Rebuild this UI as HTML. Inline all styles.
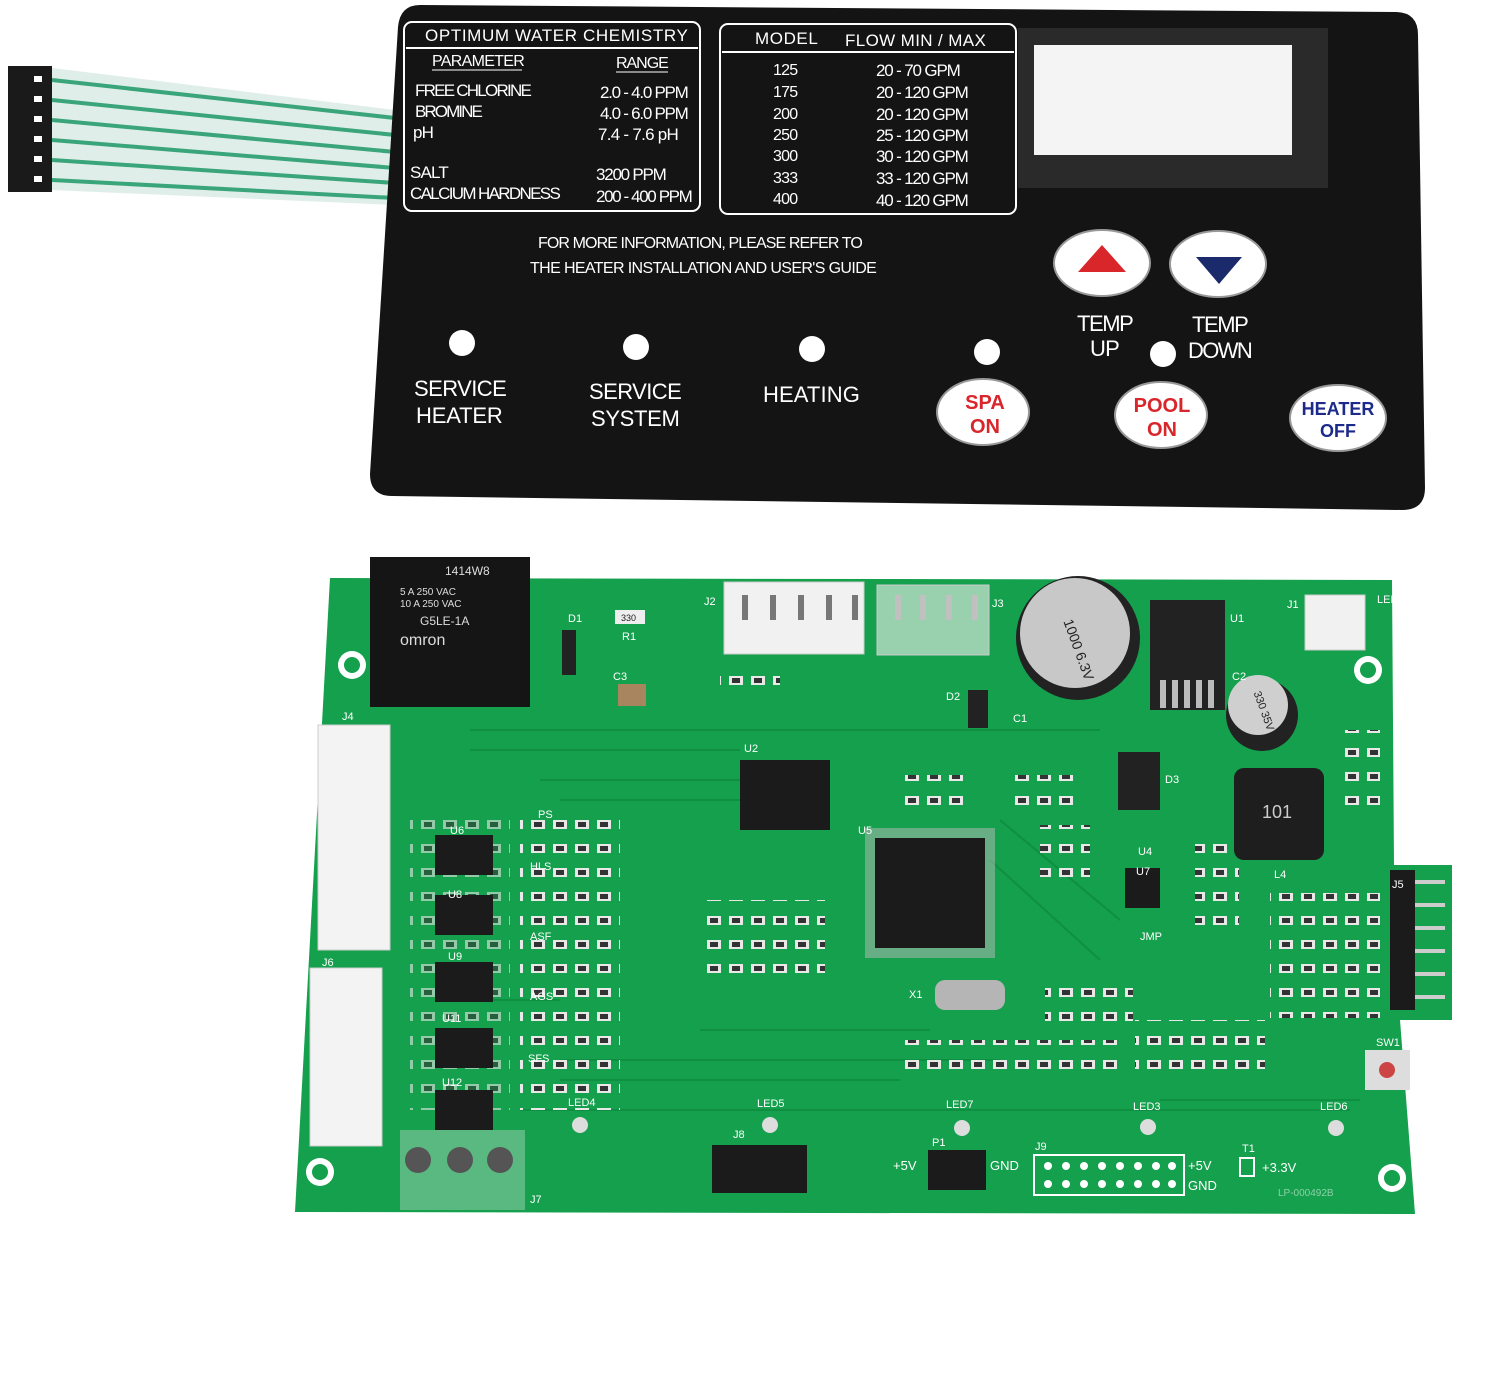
<!DOCTYPE html>
<html><head><meta charset="utf-8"><style>
html,body{margin:0;padding:0;background:#fff;}
svg{display:block}
text{font-family:"Liberation Sans",sans-serif;}
</style></head><body>
<svg width="1500" height="1376" viewBox="0 0 1500 1376" xmlns="http://www.w3.org/2000/svg">
<defs>
<pattern id="res" width="22" height="24" patternUnits="userSpaceOnUse">
<rect x="3" y="4" width="14" height="9" fill="#e8e8e8"/><rect x="6" y="6" width="8" height="5" fill="#333"/>
</pattern>
</defs>
<rect width="1500" height="1376" fill="#fff"/>
<!-- ribbon -->
<g>
<rect x="8" y="66" width="44" height="126" fill="#1a1a1a"/>
<g fill="#fff"><rect x="34" y="76" width="8" height="6"/><rect x="34" y="96" width="8" height="6"/><rect x="34" y="116" width="8" height="6"/><rect x="34" y="136" width="8" height="6"/><rect x="34" y="156" width="8" height="6"/><rect x="34" y="176" width="8" height="6"/></g>
<polygon points="52,68 395,110 395,205 52,190" fill="#dfeee9"/>
<g stroke="#3aa57a" stroke-width="4" fill="none">
<line x1="52" y1="80" x2="395" y2="118"/><line x1="52" y1="100" x2="395" y2="135"/><line x1="52" y1="120" x2="395" y2="152"/><line x1="52" y1="140" x2="395" y2="168"/><line x1="52" y1="160" x2="395" y2="183"/><line x1="52" y1="180" x2="395" y2="198"/>
</g>
</g>
<!-- membrane panel -->
<path d="M420,5 L1395,12 Q1418,12 1418,35 L1425,488 Q1425,510 1402,510 L392,496 Q370,496 370,474 L398,27 Q400,5 420,5 Z" fill="#141414"/>
<rect x="404" y="22" width="296" height="189" rx="8" fill="none" stroke="#fff" stroke-width="2"/>
<rect x="720" y="24" width="296" height="190" rx="8" fill="none" stroke="#fff" stroke-width="2"/>
<rect x="1018" y="28" width="310" height="160" fill="#2a2a2a"/>
<rect x="1034" y="45" width="258" height="110" fill="#f4f4f4"/>
<g fill="#fff" font-size="17" letter-spacing="-0.8">
<text x="425" y="41" textLength="262">OPTIMUM WATER CHEMISTRY</text>
<line x1="406" y1="48" x2="698" y2="48" stroke="#fff" stroke-width="2"/>
<text x="432" y="66" font-size="16" textLength="92">PARAMETER</text><text x="616" y="68" font-size="16" textLength="52">RANGE</text>
<line x1="432" y1="70" x2="522" y2="70" stroke="#fff"/><line x1="616" y1="72" x2="668" y2="72" stroke="#fff"/>
<text x="415" y="96" textLength="116">FREE CHLORINE</text><text x="600" y="98" textLength="88">2.0 - 4.0 PPM</text>
<text x="415" y="117" textLength="67">BROMINE</text><text x="600" y="119" textLength="88">4.0 - 6.0 PPM</text>
<text x="413" y="138">pH</text><text x="598" y="140" textLength="80">7.4 - 7.6 pH</text>
<text x="410" y="178" textLength="38">SALT</text><text x="596" y="180" textLength="70">3200 PPM</text>
<text x="410" y="199" textLength="150">CALCIUM HARDNESS</text><text x="596" y="202" textLength="96">200 - 400 PPM</text>
<text x="755" y="44" textLength="62">MODEL</text><text x="845" y="46" textLength="140">FLOW MIN / MAX</text>
<line x1="722" y1="52" x2="1014" y2="52" stroke="#fff" stroke-width="2"/>
<g font-size="16"><text x="773" y="75">125</text><text x="773" y="97">175</text><text x="773" y="119">200</text><text x="773" y="140">250</text><text x="773" y="161">300</text><text x="773" y="183">333</text><text x="773" y="204">400</text></g>
<text x="876" y="76" textLength="84">20 - 70 GPM</text><text x="876" y="98" textLength="92">20 - 120 GPM</text><text x="876" y="120" textLength="92">20 - 120 GPM</text><text x="876" y="141" textLength="92">25 - 120 GPM</text><text x="876" y="162" textLength="92">30 - 120 GPM</text><text x="876" y="184" textLength="92">33 - 120 GPM</text><text x="876" y="206" textLength="92">40 - 120 GPM</text>
<text x="538" y="248" font-size="16" textLength="324">FOR MORE INFORMATION, PLEASE REFER TO</text>
<text x="530" y="273" font-size="16" textLength="346">THE HEATER INSTALLATION AND USER'S GUIDE</text>
<text x="414" y="396" font-size="22" textLength="92">SERVICE</text><text x="416" y="423" font-size="22" textLength="86">HEATER</text>
<text x="589" y="399" font-size="22" textLength="92">SERVICE</text><text x="591" y="426" font-size="22" textLength="88">SYSTEM</text>
<text x="763" y="402" font-size="22" textLength="96">HEATING</text>
<text x="1077" y="331" font-size="22" textLength="56">TEMP</text><text x="1090" y="356" font-size="22">UP</text>
<text x="1192" y="332" font-size="22" textLength="56">TEMP</text><text x="1188" y="358" font-size="22" textLength="64">DOWN</text>
</g>
<g fill="#fff"><circle cx="462" cy="343" r="13"/><circle cx="636" cy="347" r="13"/><circle cx="812" cy="349" r="13"/><circle cx="987" cy="352" r="13"/><circle cx="1163" cy="354" r="13"/></g>
<g fill="#fff" stroke="#999" stroke-width="2">
<ellipse cx="1102" cy="263" rx="48" ry="33"/><ellipse cx="1218" cy="264" rx="48" ry="33"/>
<ellipse cx="983" cy="412" rx="46" ry="33"/><ellipse cx="1161" cy="415" rx="46" ry="33"/><ellipse cx="1338" cy="418" rx="48" ry="33"/>
</g>
<polygon points="1102,245 1126,272 1078,272" fill="#d8262b"/>
<polygon points="1196,257 1242,257 1219,284" fill="#1b2a6b"/>
<g font-family="Liberation Mono,monospace" font-weight="bold" font-size="20" fill="#d8262b" text-anchor="middle">
<text x="985" y="409">SPA</text><text x="985" y="433">ON</text>
<text x="1162" y="412">POOL</text><text x="1162" y="436">ON</text>
</g>
<g font-family="Liberation Mono,monospace" font-weight="bold" font-size="18" fill="#1b2a8b" text-anchor="middle">
<text x="1338" y="415">HEATER</text><text x="1338" y="437">OFF</text>
</g>
<!-- PCB -->
<polygon points="330,578 1392,580 1394,865 1452,865 1452,1020 1400,1020 1415,1214 295,1212" fill="#14a04c"/>
<!-- traces -->
<g stroke="#0f8f41" stroke-width="2" fill="none">
<path d="M470,730 H1100 M470,750 H740 M540,780 H740 M560,800 H740 M560,1060 H1000 M560,1080 H900 M520,1110 H1350 M700,1030 H930 M1000,820 L1120,920 M990,860 L1100,960 M470,1000 H560 M1160,1100 H1360"/>
</g>
<g fill="#fff"><circle cx="352" cy="665" r="14"/><circle cx="1368" cy="670" r="14"/><circle cx="320" cy="1172" r="14"/><circle cx="1392" cy="1178" r="14"/></g>
<g fill="#14a04c"><circle cx="352" cy="665" r="8"/><circle cx="1368" cy="670" r="8"/><circle cx="320" cy="1172" r="8"/><circle cx="1392" cy="1178" r="8"/></g>
<!-- small components -->
<rect x="520" y="820" width="100" height="290" fill="url(#res)"/>
<rect x="705" y="900" width="120" height="75" fill="url(#res)"/>
<rect x="1045" y="975" width="88" height="48" fill="url(#res)"/>
<rect x="1195" y="830" width="44" height="100" fill="url(#res)"/>
<rect x="1270" y="893" width="110" height="125" fill="url(#res)"/>
<rect x="1135" y="1020" width="130" height="60" fill="url(#res)"/>
<rect x="905" y="1040" width="220" height="40" fill="url(#res)"/>
<rect x="1340" y="730" width="40" height="80" fill="url(#res)"/>
<rect x="410" y="810" width="100" height="300" fill="url(#res)" opacity="0.6"/>
<rect x="1010" y="775" width="70" height="30" fill="url(#res)"/>
<rect x="900" y="775" width="70" height="30" fill="url(#res)"/>
<rect x="1040" y="825" width="50" height="60" fill="url(#res)"/>
<rect x="720" y="670" width="60" height="24" fill="url(#res)"/>
<rect x="615" y="610" width="30" height="14" fill="#eee"/><text x="621" y="621" font-size="9" fill="#222">330</text>
<rect x="618" y="684" width="28" height="22" fill="#a8855e"/>
<rect x="562" y="630" width="14" height="45" fill="#222"/>
<rect x="968" y="690" width="20" height="38" fill="#222"/>
<rect x="1118" y="752" width="42" height="58" fill="#222"/>
<!-- relay -->
<rect x="370" y="557" width="160" height="150" fill="#151515"/>
<g fill="#ddd" font-size="12"><text x="445" y="575">1414W8</text><text x="400" y="645" font-size="16">omron</text><text x="420" y="625">G5LE-1A</text><text x="400" y="595" font-size="10">5 A 250 VAC</text><text x="400" y="607" font-size="10">10 A 250 VAC</text></g>
<!-- connectors -->
<rect x="724" y="582" width="140" height="72" fill="#f1f1f1" stroke="#ccc"/>
<g fill="#777"><rect x="742" y="595" width="6" height="25"/><rect x="770" y="595" width="6" height="25"/><rect x="798" y="595" width="6" height="25"/><rect x="826" y="595" width="6" height="25"/><rect x="852" y="595" width="6" height="25"/>
<rect x="895" y="595" width="6" height="25"/><rect x="920" y="595" width="6" height="25"/><rect x="946" y="595" width="6" height="25"/><rect x="972" y="595" width="6" height="25"/></g>
<rect x="877" y="585" width="112" height="70" fill="#f1f1f1" stroke="#ccc" fill-opacity="0.6"/>
<rect x="1305" y="595" width="60" height="55" fill="#f1f1f1" stroke="#ccc"/>
<rect x="318" y="725" width="72" height="225" fill="#f3f3f3" stroke="#ccc"/>
<rect x="310" y="968" width="72" height="178" fill="#f3f3f3" stroke="#ccc"/>
<rect x="400" y="1130" width="125" height="80" fill="#59b980"/>
<g fill="#555"><circle cx="418" cy="1160" r="13"/><circle cx="460" cy="1160" r="13"/><circle cx="500" cy="1160" r="13"/></g>
<!-- caps -->
<circle cx="1078" cy="638" r="62" fill="#222"/>
<circle cx="1075" cy="633" r="55" fill="#c8c8c8"/>
<text x="1060" y="640" font-size="14" fill="#222" transform="rotate(70 1075 633)">1000 6.3V</text>
<circle cx="1262" cy="715" r="36" fill="#222"/>
<circle cx="1258" cy="705" r="30" fill="#cfcfcf"/>
<text x="1245" y="705" font-size="11" fill="#222" transform="rotate(70 1258 705)">330 35V</text>
<rect x="1234" y="768" width="90" height="92" rx="10" fill="#1e1e1e"/>
<text x="1262" y="818" font-size="18" fill="#ccc">101</text>
<rect x="1150" y="600" width="75" height="110" fill="#222"/>
<g fill="#bbb"><rect x="1160" y="680" width="6" height="28"/><rect x="1172" y="680" width="6" height="28"/><rect x="1184" y="680" width="6" height="28"/><rect x="1196" y="680" width="6" height="28"/><rect x="1208" y="680" width="6" height="28"/></g>
<!-- ICs -->
<rect x="740" y="760" width="90" height="70" fill="#1b1b1b"/>
<rect x="865" y="828" width="130" height="130" fill="#bbb" opacity="0.5"/>
<rect x="875" y="838" width="110" height="110" fill="#1b1b1b"/>
<rect x="1125" y="868" width="35" height="40" fill="#1b1b1b"/>
<rect x="935" y="980" width="70" height="30" rx="10" fill="#b5b5b5"/>
<g fill="#1b1b1b"><rect x="435" y="835" width="58" height="40"/><rect x="435" y="895" width="58" height="40"/><rect x="435" y="962" width="58" height="40"/><rect x="435" y="1028" width="58" height="40"/><rect x="435" y="1090" width="58" height="40"/></g>
<rect x="712" y="1145" width="95" height="48" fill="#1b1b1b"/>
<rect x="928" y="1150" width="58" height="40" fill="#1b1b1b"/>
<rect x="1034" y="1155" width="150" height="40" fill="none" stroke="#fff" stroke-width="2"/>
<g fill="#fff"><circle cx="1048" cy="1166" r="4"/><circle cx="1066" cy="1166" r="4"/><circle cx="1084" cy="1166" r="4"/><circle cx="1102" cy="1166" r="4"/><circle cx="1120" cy="1166" r="4"/><circle cx="1138" cy="1166" r="4"/><circle cx="1156" cy="1166" r="4"/><circle cx="1172" cy="1166" r="4"/>
<circle cx="1048" cy="1184" r="4"/><circle cx="1066" cy="1184" r="4"/><circle cx="1084" cy="1184" r="4"/><circle cx="1102" cy="1184" r="4"/><circle cx="1120" cy="1184" r="4"/><circle cx="1138" cy="1184" r="4"/><circle cx="1156" cy="1184" r="4"/><circle cx="1172" cy="1184" r="4"/></g>
<rect x="1390" y="870" width="25" height="140" fill="#1b1b1b"/>
<g fill="#ccc"><rect x="1415" y="880" width="30" height="4"/><rect x="1415" y="903" width="30" height="4"/><rect x="1415" y="926" width="30" height="4"/><rect x="1415" y="949" width="30" height="4"/><rect x="1415" y="972" width="30" height="4"/><rect x="1415" y="995" width="30" height="4"/></g>
<rect x="1365" y="1050" width="45" height="40" fill="#ddd"/><circle cx="1387" cy="1070" r="8" fill="#c44"/>
<rect x="1240" y="1158" width="14" height="18" fill="none" stroke="#fff" stroke-width="2"/>
<!-- LEDs -->
<g fill="#ddd"><circle cx="580" cy="1125" r="8"/><circle cx="770" cy="1125" r="8"/><circle cx="962" cy="1128" r="8"/><circle cx="1148" cy="1127" r="8"/><circle cx="1336" cy="1128" r="8"/></g>
<g fill="#fff" font-size="11">
<text x="893" y="1170" font-size="13">+5V</text><text x="990" y="1170" font-size="13">GND</text><text x="1188" y="1170" font-size="13">+5V</text><text x="1188" y="1190" font-size="13">GND</text><text x="1262" y="1172" font-size="13">+3.3V</text>
<text x="530" y="1203">J7</text><text x="733" y="1138">J8</text><text x="1035" y="1150">J9</text><text x="1392" y="888">J5</text>
<text x="704" y="605">J2</text><text x="992" y="607">J3</text><text x="1287" y="608">J1</text><text x="1230" y="622">U1</text><text x="1232" y="680">C2</text><text x="1013" y="722">C1</text>
<text x="744" y="752">U2</text><text x="858" y="834">U5</text><text x="1274" y="878">L4</text><text x="1136" y="875">U7</text><text x="1138" y="855">U4</text><text x="1165" y="783">D3</text><text x="946" y="700">D2</text>
<text x="568" y="622">D1</text><text x="622" y="640">R1</text><text x="613" y="680">C3</text><text x="909" y="998">X1</text><text x="1140" y="940">JMP</text>
<text x="342" y="720">J4</text><text x="322" y="966">J6</text><text x="450" y="834">U6</text><text x="448" y="898">U8</text><text x="448" y="960">U9</text><text x="442" y="1022">U11</text><text x="442" y="1086">U12</text>
<text x="538" y="818">PS</text><text x="530" y="870">HLS</text><text x="530" y="940">ASF</text><text x="530" y="1000">AGS</text><text x="528" y="1062">SFS</text>
<text x="568" y="1106">LED4</text><text x="757" y="1107">LED5</text><text x="946" y="1108">LED7</text><text x="1133" y="1110">LED3</text><text x="1320" y="1110">LED6</text><text x="1377" y="603">LED1</text>
<text x="1376" y="1046">SW1</text><text x="1242" y="1152">T1</text><text x="932" y="1146">P1</text>
</g>
<text x="1278" y="1196" font-size="10" fill="#8fd0a8">LP-000492B</text>
</svg>
</body></html>
